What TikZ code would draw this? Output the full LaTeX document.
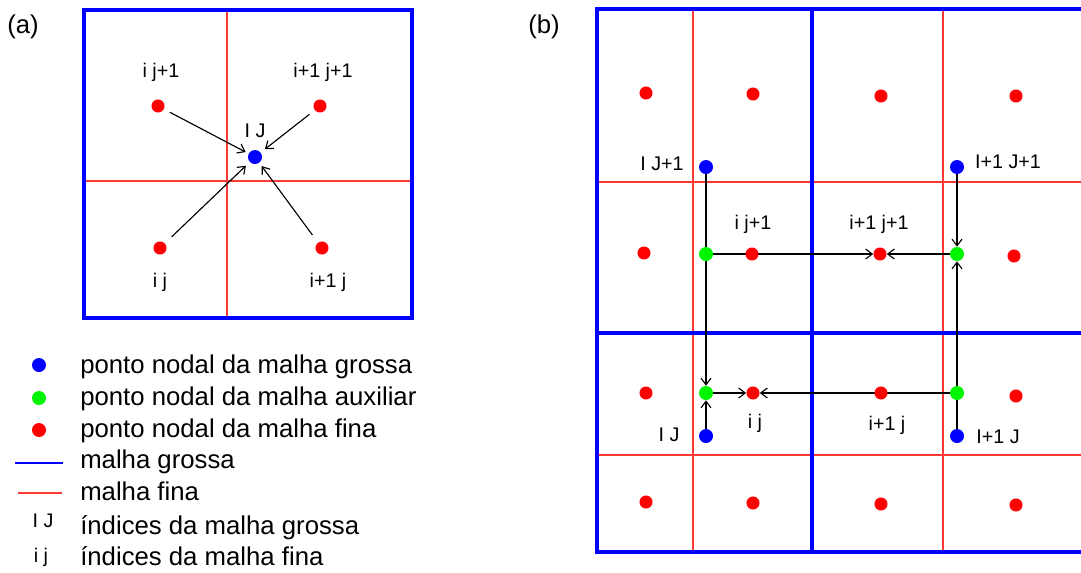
\documentclass[tikz,border=0pt]{standalone}
\usepackage{fontspec}
\setmainfont{Liberation Sans}
\usetikzlibrary{arrows.meta}
\pgfdeclarelayer{bg}
\pgfsetlayers{bg,main}
\definecolor{cblue}{RGB}{0,0,255}
\definecolor{cred}{RGB}{255,0,0}
\definecolor{cline}{RGB}{255,55,55}
\definecolor{cgreen}{RGB}{0,245,0}
\begin{document}
\begin{tikzpicture}[x=0.75pt,y=-0.75pt,
  coarse/.style={draw=cblue, line width=2.6pt},
  fine/.style={draw=cline, line width=1.05pt},
  rdot/.style={circle, fill=cred, inner sep=0pt, minimum size=9.8pt},
  bdot/.style={circle, fill=cblue, inner sep=0pt, minimum size=10.5pt},
  gdot/.style={circle, fill=cgreen, inner sep=0pt, minimum size=10.5pt},
  lab/.style={font=\fontsize{14.8}{17}\selectfont, anchor=base, inner sep=0pt},
  leg/.style={font=\fontsize{19.3}{22}\selectfont, anchor=base west, inner sep=0pt},
  arr/.style={draw=black, line width=0.85pt, -{Straight Barb[length=5pt,width=7.5pt]}}
]
\useasboundingbox (0,0) rectangle (1081,572);
\clip (0,0) rectangle (1081,572);
\begin{pgfonlayer}{bg}
  \fill[white] (0,0) rectangle (1081,572);
\end{pgfonlayer}

% ---------- panel (a) ----------
\node[leg] (pa) at (7,33) {(a)};
\node[rdot] (a1) at (158,106) {};
\node[rdot] (a2) at (320,106) {};
\node[rdot] (a3) at (160,248) {};
\node[rdot] (a4) at (322,248) {};
\node[bdot] (aIJ) at (255,157) {};
\node[lab] (la1) at (161,77) {i j+1};
\node[lab] (la2) at (323,77) {i+1 j+1};
\node[lab] (la3) at (160,287) {i j};
\node[lab] (la4) at (328,287) {i+1 j};
\node[lab] (laIJ) at (255,137) {I J};
\begin{pgfonlayer}{bg}
  \draw[fine] (227,10) -- (227,318);
  \draw[fine] (84,181) -- (412,181);
  \draw[coarse] (84,10) rectangle (412,318);
  \draw[arr, shorten <=5pt, shorten >=2.5pt] (a1) -- (aIJ);
  \draw[arr, shorten <=5pt, shorten >=4pt] (a2) -- (aIJ);
  \draw[arr, shorten <=7pt, shorten >=4pt] (a3) -- (aIJ);
  \draw[arr, shorten <=7pt, shorten >=3pt] (a4) -- (aIJ);
\end{pgfonlayer}

% ---------- legend ----------
\node[bdot] (kb) at (39,365) {};
\node[gdot] (kg) at (39,398) {};
\node[rdot, minimum size=10.5pt] (kr) at (39,430) {};
\coordinate (kc1) at (15,463);
\coordinate (kc2) at (63,463);
\coordinate (kf1) at (18,493);
\coordinate (kf2) at (62,493);
\draw[draw=cblue, line width=2.2pt] (kc1) -- (kc2);
\draw[draw=cline, line width=1.1pt] (kf1) -- (kf2);
\node[leg] (t1) at (80,373) {ponto nodal da malha grossa};
\node[leg] (t2) at (80,405) {ponto nodal da malha auxiliar};
\node[leg] (t3) at (80,437) {ponto nodal da malha fina};
\node[leg] (t4) at (80,468) {malha grossa};
\node[leg] (t5) at (80,500) {malha fina};
\node[leg] (t6) at (80,534) {índices da malha grossa};
\node[leg] (t7) at (80,565) {índices da malha fina};
\node[lab] (kIJ) at (43,527) {I J};
\node[lab] (kij) at (41,562) {i j};

% ---------- panel (b) ----------
\node[leg] (pb) at (528,33) {(b)};
% fine points
\node[rdot] (r11) at (646,93) {};
\node[rdot] (r12) at (753,94) {};
\node[rdot] (r13) at (881,96) {};
\node[rdot] (r14) at (1016,96) {};
\node[rdot] (r21) at (644,253) {};
\node[rdot] (r22) at (752,254) {};
\node[rdot] (r23) at (880,254) {};
\node[rdot] (r24) at (1014,256) {};
\node[rdot] (r31) at (646,393) {};
\node[rdot] (r32) at (753,393) {};
\node[rdot] (r33) at (881,393) {};
\node[rdot] (r34) at (1016,396) {};
\node[rdot] (r41) at (646,502) {};
\node[rdot] (r42) at (753,503) {};
\node[rdot] (r43) at (881,504) {};
\node[rdot] (r44) at (1016,505) {};
% auxiliary points
\node[gdot] (g1) at (706,254) {};
\node[gdot] (g2) at (957,254) {};
\node[gdot] (g3) at (706,393) {};
\node[gdot] (g4) at (957,393) {};
% coarse points
\node[bdot] (bIJ1) at (706,167) {};
\node[bdot] (bI1J1) at (957,167) {};
\node[bdot] (bIJ) at (706,436) {};
\node[bdot] (bI1J) at (957,436) {};
% labels
\node[lab] (lbIJ1) at (662,170) {I J+1};
\node[lab] (lbI1J1) at (1008,168) {I+1 J+1};
\node[lab] (lbij1) at (753,229) {i j+1};
\node[lab] (lbi1j1) at (879,229) {i+1 j+1};
\node[lab] (lbij) at (755,428) {i j};
\node[lab] (lbi1j) at (887,430) {i+1 j};
\node[lab] (lbIJ) at (669,441) {I J};
\node[lab] (lbI1J) at (998,443) {I+1 J};
\begin{pgfonlayer}{bg}
  \draw[fine] (693,9) -- (693,552);
  \draw[fine] (943,9) -- (943,552);
  \draw[fine] (597,182) -- (1090,182);
  \draw[fine] (597,455) -- (1090,455);
  \draw[coarse] (1090,9) -- (597,9) -- (597,552) -- (1090,552);
  \draw[coarse] (812,9) -- (812,552);
  \draw[coarse] (597,333) -- (1090,333);
  \draw[arr] (bIJ1) -- (g3);
  \draw[arr] (bIJ) -- (g3);
  \draw[arr] (bI1J1) -- (g2);
  \draw[arr] (bI1J) -- (g2);
  \draw[arr] (g1) -- (r23);
  \draw[arr] (g2) -- (r23);
  \draw[arr] (g3) -- (r32);
  \draw[arr] (g4) -- (r32);
\end{pgfonlayer}
\end{tikzpicture}
\end{document}
